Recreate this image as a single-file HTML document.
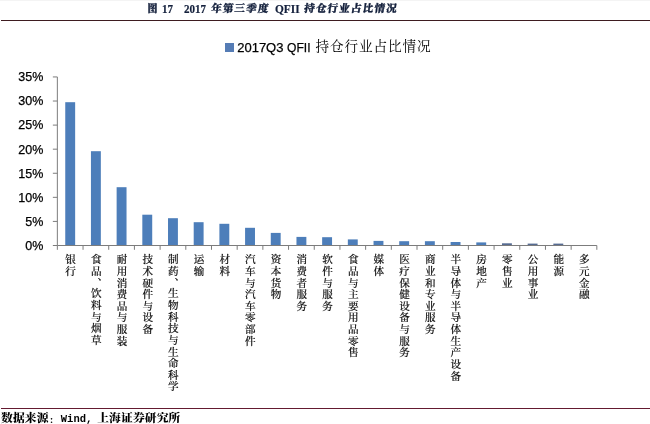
<!DOCTYPE html>
<html lang="zh-CN">
<head>
<meta charset="utf-8">
<title>图 17 2017 年第三季度 QFII 持仓行业占比情况</title>
<style>
html,body{margin:0;padding:0;background:#fff;}
body{width:650px;height:424px;position:relative;overflow:hidden;font-family:"Liberation Sans","Noto Sans CJK SC",sans-serif;color:#000;}
.abs{position:absolute;white-space:nowrap;}
.rule{position:absolute;left:1px;right:0;height:1px;}
.title{top:1px;left:147px;height:16px;line-height:16px;font-family:"Liberation Serif","Noto Serif CJK SC",serif;font-weight:bold;color:#14203c;font-size:13px;}
.title .lat{transform-origin:0 50%;transform:scaleX(0.85);}
.title span{position:absolute;top:0;white-space:nowrap;}
.title .cjk{font-size:10.6px;letter-spacing:1.15px;font-weight:900;-webkit-text-stroke:0.3px #14203c;top:0.2px;transform:skewX(-7deg);}
.title .lat{top:0.3px;-webkit-text-stroke:0.2px #14203c;}
.legend span{position:absolute;white-space:nowrap;}
.ylab{-webkit-text-stroke:0.25px #000;font-size:12.5px;line-height:14px;height:14px;width:30px;text-align:right;left:13.3px;}
.xlab{position:absolute;top:254.2px;font-weight:500;-webkit-text-stroke:0.15px #000;width:12px;writing-mode:vertical-rl;text-orientation:upright;font-family:"Liberation Serif","Noto Serif CJK SC",serif;font-size:10.6px;letter-spacing:1.02px;line-height:12px;white-space:nowrap;color:#111;}
.bar{position:absolute;background:#4d7eba;}
.foot{top:411.2px;left:1px;height:15px;line-height:15px;font-family:"Liberation Serif","Noto Serif CJK SC",serif;font-weight:900;font-size:11.8px;letter-spacing:0.1px;}
.foot span{position:absolute;top:0;white-space:nowrap;}
</style>
</head>
<body>
<div style="position:absolute;left:0;right:0;top:0;height:1px;background:#f4f4f4;"></div>
<div class="rule" style="top:20px;background:#3e1c20;"></div>
<div class="rule" style="top:408px;background:#641a30;"></div>
<div class="abs title">
<span class="cjk" style="left:0.6px;font-size:10px;transform:none">图</span> <span class="lat" style="left:15.2px">17</span> <span class="lat" style="left:37.2px">2017</span> <span class="cjk" style="left:63.5px">年第三季度</span> <span class="lat" style="left:127.6px;transform:scaleX(0.875)">QFII</span> <span class="cjk" style="left:157.4px;">持仓行业占比情况</span>
</div>
<div class="abs legend" style="left:0;top:0;">
<div class="bar" style="left:225.3px;top:43.4px;width:8.4px;height:8.4px;background:#557cb5;"></div>
<span style="left:237.2px;top:39px;font-size:13px;line-height:17px;-webkit-text-stroke:0.25px #000;">2017Q3</span>
<span style="left:286.6px;top:39px;font-size:13px;line-height:17px;transform-origin:0 0;transform:scaleX(0.93);-webkit-text-stroke:0.25px #000;">QFII</span>
<span style="left:315.6px;top:38px;font-size:13.6px;letter-spacing:0.9px;line-height:18px;font-family:'Liberation Serif','Noto Serif CJK SC',serif;">持仓行业占比情况</span>
</div>

<svg class="abs" style="left:0;top:0" width="650" height="424" viewBox="0 0 650 424"><g fill="#4d7eba"><rect x="65.25" y="102.20" width="9.90" height="143.30"/><rect x="90.94" y="151.20" width="9.90" height="94.30"/><rect x="116.63" y="187.20" width="9.90" height="58.30"/><rect x="142.32" y="214.70" width="9.90" height="30.80"/><rect x="168.01" y="218.20" width="9.90" height="27.30"/><rect x="193.70" y="222.20" width="9.90" height="23.30"/><rect x="219.39" y="223.80" width="9.90" height="21.70"/><rect x="245.08" y="227.80" width="9.90" height="17.70"/><rect x="270.77" y="232.90" width="9.90" height="12.60"/><rect x="296.46" y="236.90" width="9.90" height="8.60"/><rect x="322.15" y="237.20" width="9.90" height="8.30"/><rect x="347.84" y="239.40" width="9.90" height="6.10"/><rect x="373.53" y="240.90" width="9.90" height="4.60"/><rect x="399.22" y="241.20" width="9.90" height="4.30"/><rect x="424.91" y="241.20" width="9.90" height="4.30"/><rect x="450.60" y="242.00" width="9.90" height="3.50"/><rect x="476.29" y="242.40" width="9.90" height="3.10"/><rect x="501.98" y="243.30" width="9.90" height="2.20" fill="#566b92"/><rect x="527.66" y="243.60" width="9.90" height="1.90" fill="#566b92"/><rect x="553.36" y="243.60" width="9.90" height="1.90" fill="#566b92"/></g><g stroke="#7c7c7c" stroke-width="1" fill="none"><path d="M57.35 76.94V245.50H596.84"/><path d="M52.85 245.50H57.35M52.85 221.42H57.35M52.85 197.34H57.35M52.85 173.26H57.35M52.85 149.18H57.35M52.85 125.10H57.35M52.85 101.02H57.35M52.85 76.94H57.35M57.35 245.50V249.80M83.04 245.50V249.80M108.73 245.50V249.80M134.42 245.50V249.80M160.11 245.50V249.80M185.80 245.50V249.80M211.49 245.50V249.80M237.18 245.50V249.80M262.87 245.50V249.80M288.56 245.50V249.80M314.25 245.50V249.80M339.94 245.50V249.80M365.63 245.50V249.80M391.32 245.50V249.80M417.01 245.50V249.80M442.70 245.50V249.80M468.39 245.50V249.80M494.08 245.50V249.80M519.77 245.50V249.80M545.46 245.50V249.80M571.15 245.50V249.80M596.84 245.50V249.80"/></g></svg>
<div class="abs ylab" style="top:238.8px;">0%</div>
<div class="abs ylab" style="top:214.7px;">5%</div>
<div class="abs ylab" style="top:190.6px;">10%</div>
<div class="abs ylab" style="top:166.6px;">15%</div>
<div class="abs ylab" style="top:142.5px;">20%</div>
<div class="abs ylab" style="top:118.4px;">25%</div>
<div class="abs ylab" style="top:94.3px;">30%</div>
<div class="abs ylab" style="top:70.2px;">35%</div>
<div class="xlab" style="left:63.1px;">银行</div>
<div class="xlab" style="left:88.8px;">食品<span style="letter-spacing:0.32px">、</span>饮料与烟草</div>
<div class="xlab" style="left:114.5px;">耐用消费品与服装</div>
<div class="xlab" style="left:140.2px;">技术硬件与设备</div>
<div class="xlab" style="left:165.9px;">制药<span style="letter-spacing:0.32px">、</span>生物科技与生命科学</div>
<div class="xlab" style="left:191.5px;">运输</div>
<div class="xlab" style="left:217.2px;">材料</div>
<div class="xlab" style="left:242.9px;">汽车与汽车零部件</div>
<div class="xlab" style="left:268.6px;">资本货物</div>
<div class="xlab" style="left:294.3px;">消费者服务</div>
<div class="xlab" style="left:320.0px;">软件与服务</div>
<div class="xlab" style="left:345.7px;">食品与主要用品零售</div>
<div class="xlab" style="left:371.4px;">媒体</div>
<div class="xlab" style="left:397.1px;">医疗保健设备与服务</div>
<div class="xlab" style="left:422.8px;">商业和专业服务</div>
<div class="xlab" style="left:448.4px;">半导体与半导体生产设备</div>
<div class="xlab" style="left:474.1px;">房地产</div>
<div class="xlab" style="left:499.8px;">零售业</div>
<div class="xlab" style="left:525.5px;">公用事业</div>
<div class="xlab" style="left:551.2px;">能源</div>
<div class="xlab" style="left:576.9px;">多元金融</div>
<div class="abs foot">
<span style="left:0">数据来源<span style="position:relative;top:1.2px;left:0.6px;font-size:8px">：</span></span><span style="left:59.8px;top:0.8px;font-family:'Liberation Mono',monospace;font-weight:bold;letter-spacing:0;font-size:10.5px;">Wind,</span> <span style="left:96.2px">上海证券研究所</span>
</div>
</body>
</html>
